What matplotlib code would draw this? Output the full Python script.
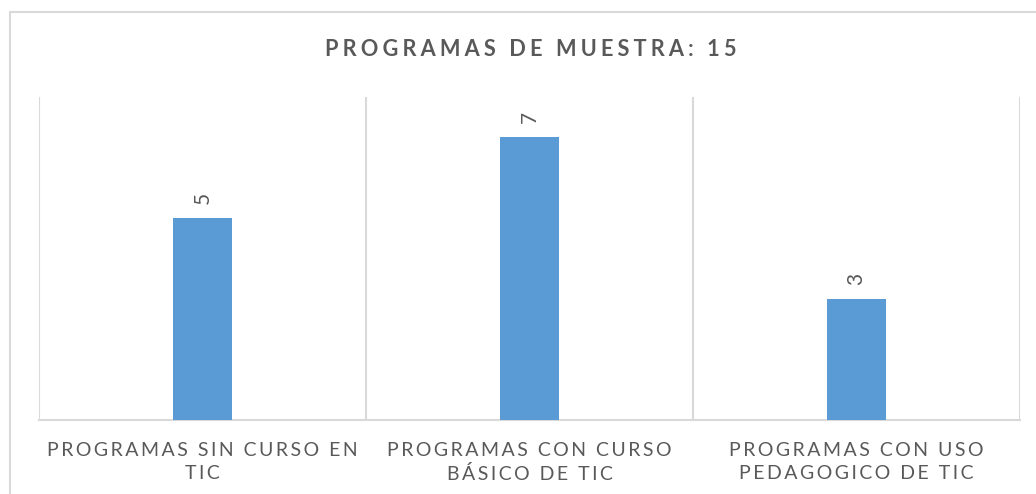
import matplotlib
matplotlib.use("Agg")
import matplotlib.pyplot as plt
from matplotlib.patches import Rectangle

categories = ["PROGRAMAS SIN CURSO EN\nTIC",
              "PROGRAMAS CON CURSO\nBÁSICO DE TIC",
              "PROGRAMAS CON USO\nPEDAGOGICO DE TIC"]
values = [5, 7, 3]
title = "PROGRAMAS DE MUESTRA: 15"

FAM = ["Lato", "DejaVu Sans"]
HS = "\u200a"


def track(s, n=1):
    return "\n".join((HS * n).join(list(line)) for line in s.split("\n"))


W, H = 1036, 494
fig = plt.figure(figsize=(W / 100, H / 100), dpi=100)
fig.patch.set_facecolor("white")
renderer = fig.canvas.get_renderer()


def fit_n(sample, target_px, **kw):
    t = fig.text(0, 0, sample, **kw)
    best, best_err = 0, 1e9
    for n in range(0, 30):
        t.set_text(track(sample, n))
        w = t.get_window_extent(renderer).width
        err = abs(w - target_px)
        if err < best_err:
            best, best_err = n, err
        if w > target_px:
            break
    t.remove()
    return best


def fit_fs(sample, n, target_px, fs0, **kw):
    t = fig.text(0, 0, track(sample, n), fontsize=fs0, **kw)
    w = t.get_window_extent(renderer).width
    t.remove()
    return fs0 * target_px / w


XL_FS = 13.5
TITLE_FS = 16
line0 = categories[0].split("\n")[0]
n_x = fit_n(line0, 300, family=FAM, fontsize=XL_FS)
XL_FS = fit_fs(line0, n_x, 308, XL_FS, family=FAM)
n_t = fit_n(title, 409, family=FAM, fontsize=TITLE_FS, fontweight="bold")
TITLE_FS = fit_fs(title, n_t, 409, TITLE_FS, family=FAM, fontweight="bold")

# outer chart border
fig.patches.append(Rectangle((10 / W, -0.2), 1.2, 1 - 12 / H + 0.2,
                             transform=fig.transFigure, fill=False,
                             edgecolor="#d9d9d9", linewidth=1.5))

ax = fig.add_axes([39 / W, (H - 420) / H, (1020 - 39) / W, (420 - 97) / H])
x = list(range(len(values)))
ax.bar(x, values, width=0.183, color="#5b9bd5", zorder=3)
ax.set_xlim(-0.5, len(values) - 0.5)
ax.set_ylim(0, 8)

for s in ["top", "right", "left"]:
    ax.spines[s].set_visible(False)
ax.spines["bottom"].set_color("#d9d9d9")
ax.spines["bottom"].set_linewidth(1.5)
ax.set_yticks([])
ax.set_xticks([i - 0.5 for i in range(len(values) + 1)], minor=True)
ax.grid(which="minor", axis="x", color="#d9d9d9", linewidth=1.5, zorder=0)
ax.tick_params(which="minor", length=0)
ax.set_xticks(x)
ax.set_xticklabels([track(c, n_x) for c in categories], family=FAM,
                   fontsize=XL_FS, color="#595959", linespacing=1.38)
ax.tick_params(axis="x", which="major", length=0, pad=16)

for xi, v in zip(x, values):
    ax.annotate(str(v), (xi, v), xytext=(0, 10), textcoords="offset points",
                rotation=90, ha="center", va="bottom", family=FAM,
                fontsize=15, color="#595959")

fig.text(531 / W, 1 - 50 / H, track(title, n_t), ha="center", va="center",
         family=FAM, fontsize=TITLE_FS, fontweight="bold", color="#595959")

fig.savefig("out.png", dpi=100)
